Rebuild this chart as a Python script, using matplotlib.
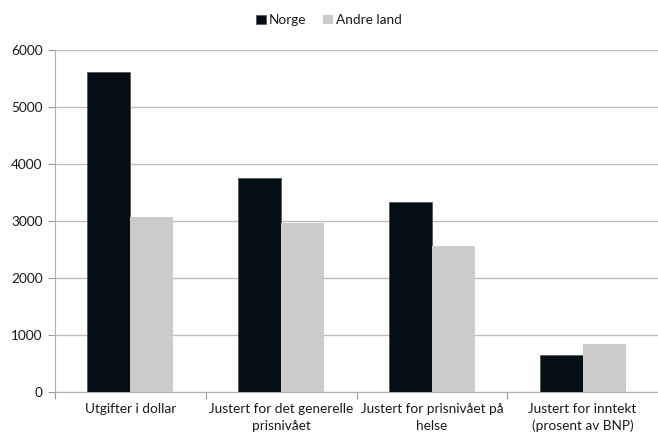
import numpy as np
import matplotlib
matplotlib.use("Agg")
import matplotlib.pyplot as plt

plt.rcParams['font.family'] = ['Lato', 'DejaVu Sans']

categories = ["Utgifter i dollar",
              "Justert for det generelle\nprisnivået",
              "Justert for prisnivået på\nhelse",
              "Justert for inntekt\n(prosent av BNP)"]
norge = [5620, 3750, 3335, 650]
andre_land = [3070, 2970, 2565, 845]
series_names = ["Norge", "Andre land"]
yticks = [0, 1000, 2000, 3000, 4000, 5000, 6000]

fig = plt.figure(figsize=(6.58, 4.36), dpi=100)
ax = fig.add_axes([55 / 658, 44 / 436, 603 / 658, 342 / 436])

x = np.arange(len(categories))
w = 0.285
ax.bar(x - w / 2, norge, w, color="#040e15", edgecolor="#404040", linewidth=0.4,
       label=series_names[0], zorder=3)
ax.bar(x + w / 2, andre_land, w, color="#cbcbcb", linewidth=0,
       label=series_names[1], zorder=3)

ax.set_xlim(-0.5, len(categories) - 0.5)
ax.set_ylim(0, 6000)
ax.set_yticks(yticks)
ax.yaxis.grid(True, color="#bdbdbd", linewidth=1.0, zorder=0)
ax.set_axisbelow(True)

# category boundary ticks
ax.set_xticks(np.arange(len(categories) + 1) - 0.5, minor=False)
ax.set_xticklabels([])
ax.set_xticks(x, minor=True)
ax.set_xticklabels(categories, minor=True, linespacing=1.45)
ax.tick_params(axis='x', which='minor', length=0, pad=8, labelsize=9.8, colors="#1a1a1a")
ax.tick_params(axis='x', which='major', length=5, color="#9a9a9a", direction='out')
ax.tick_params(axis='y', length=5, color="#9a9a9a", labelsize=9.8, pad=4)
for lab in ax.get_yticklabels():
    lab.set_color("#1a1a1a")

for s in ["top", "right"]:
    ax.spines[s].set_visible(False)
ax.spines["left"].set_color("#b0b0b0")
ax.spines["bottom"].set_color("#b0b0b0")

fig.legend(loc="upper center", bbox_to_anchor=(0.5, 0.995), ncol=2, frameon=False,
           handlelength=0.7, handleheight=0.7, handletextpad=0.25, columnspacing=1.2,
           fontsize=9.8, labelcolor="#1a1a1a")

fig.savefig("out.png", dpi=100)
